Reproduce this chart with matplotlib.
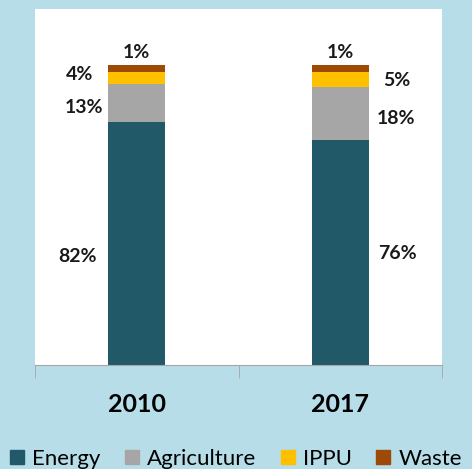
import matplotlib.pyplot as plt
from matplotlib.patches import Patch

years = ['2010', '2017']
# segment heights (percent of total)
energy = [80.9, 75.0]
agriculture = [12.8, 17.8]
ippu = [4.1, 5.0]
waste = [2.1, 2.1]
# data labels as printed on the chart
energy_lbl = ['82%', '76%']
agriculture_lbl = ['13%', '18%']
ippu_lbl = ['4%', '5%']
waste_lbl = ['1%', '1%']

colors = ['#215968', '#a6a6a6', '#ffc000', '#9c4a06']
names = ['Energy', 'Agriculture', 'IPPU', 'Waste']

plt.rcParams['font.family'] = ['Lato', 'DejaVu Sans']

fig = plt.figure(figsize=(4.72, 4.69), dpi=100, facecolor='#b7dde8')
ax = fig.add_axes([35/472, 1 - 365/469, 407/472, 356/469])
ax.set_facecolor('white')

x = [0.5, 1.5]
w = 0.28
bottom = [0, 0]
series = [energy, agriculture, ippu, waste]
for vals, c in zip(series, colors):
    ax.bar(x, vals, w, bottom=bottom, color=c, edgecolor='none')
    bottom = [b + v for b, v in zip(bottom, vals)]

ax.set_xlim(0, 2)
ax.set_ylim(0, 118.7)

lab = dict(fontsize=14, fontweight='bold', va='center', color='#1a1a1a')
# 2010 labels sit left of the bar
ax.text(0.305, 36.3, energy_lbl[0], ha='right', **lab)
ax.text(0.334, 85.7, agriculture_lbl[0], ha='right', **lab)
ax.text(0.285, 96.7, ippu_lbl[0], ha='right', **lab)
ax.text(x[0], 104.3, waste_lbl[0], ha='center', **lab)
# 2017 labels sit right of the bar
ax.text(1.686, 37.3, energy_lbl[1], ha='left', **lab)
ax.text(1.681, 82.3, agriculture_lbl[1], ha='left', **lab)
ax.text(1.710, 94.7, ippu_lbl[1], ha='left', **lab)
ax.text(x[1], 104.3, waste_lbl[1], ha='center', **lab)

for s in ['top', 'right', 'left']:
    ax.spines[s].set_visible(False)
ax.spines['bottom'].set_color('#a6a6a6')
ax.set_yticks([])
ax.set_xticks(x)
ax.set_xticklabels(years, fontsize=18, fontweight='bold')
ax.tick_params(axis='x', which='major', length=0, pad=20)
ax.set_xticks([0, 1, 2], minor=True)
ax.tick_params(axis='x', which='minor', length=9, color='#a6a6a6')

handles = [Patch(color=c, label=n) for c, n in zip(colors, names)]
fig.legend(handles=handles, loc='center', bbox_to_anchor=(0.5, 10/469), ncol=4,
           frameon=False, fontsize=16, handlelength=0.63, handleheight=0.63,
           handletextpad=0.36, columnspacing=1.1, borderaxespad=0)

fig.savefig('out.png', dpi=100, facecolor=fig.get_facecolor())
